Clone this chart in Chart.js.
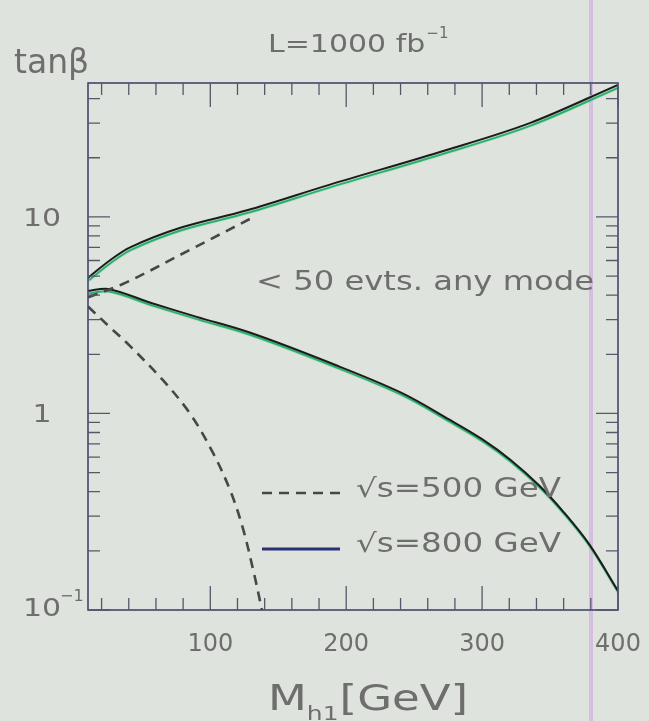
<!DOCTYPE html>
<html><head><meta charset="utf-8">
<script src="https://cdn.jsdelivr.net/npm/chart.js@4.4.1/dist/chart.umd.min.js"></script>
<style>
html,body{margin:0;padding:0;background:#dfe3dd;}
#wrap{position:relative;width:649px;height:721px;}
</style></head><body>
<div id="wrap"><canvas id="c" width="649" height="721"></canvas></div>
<script>
// ---- data ----
const massUpper800 = [10, 26, 41, 78, 127, 188, 269, 335, 400];
const tanbUpper800 = [4.9, 6.0, 7.0, 8.8, 10.8, 14.6, 21.4, 30, 47];
const massLower800 = [10, 25, 56, 90, 129, 188, 240, 276, 300, 321, 342, 360, 379, 400];
const tanbLower800 = [4.2, 4.3, 3.66, 3.1, 2.58, 1.81, 1.28, 0.93, 0.74, 0.58, 0.43, 0.315, 0.215, 0.125];
const massUpper500 = [10, 37, 85, 132];
const tanbUpper500 = [3.9, 4.6, 6.8, 10.0];
const massLower500 = [10, 26, 41, 65, 85, 102, 115, 124, 132, 138];
const tanbLower500 = [3.5, 2.75, 2.2, 1.48, 1.0, 0.63, 0.40, 0.26, 0.155, 0.1];

const xTickValues = [100, 200, 300, 400];
const xMinorTicks = [20, 40, 60, 80, 120, 140, 160, 180, 220, 240, 260, 280, 320, 340, 360, 380];
const yTickValues = [0.1, 1, 10];
const yTickBase = ['10', '1', '10'];
const yTickExp = ['\u22121', '', ''];
const yMinorTicks = [0.2, 0.3, 0.4, 0.5, 0.6, 0.7, 0.8, 0.9, 2, 3, 4, 5, 6, 7, 8, 9, 20, 30, 40];

const seriesLabels = ['\u221As=500 GeV', '\u221As=800 GeV'];
const titleText = 'L=1000 fb';
const titleExp = '\u22121';
const yTitle = 'tan\u03B2';
const regionText = '< 50 evts. any mode';
const xTitleMain = 'M';
const xTitleSub = 'h1';
const xTitleRest = '[GeV]';

function pts(xs, ys) { return xs.map((x, i) => ({x: x, y: ys[i]})); }

const FONT = '"DejaVu Sans", sans-serif';
const TXT = '#6e6e6e';
const AXIS = '#40456a';

function wideText(ctx, t, x, y, sx) {
  ctx.save();
  ctx.translate(x, y);
  ctx.scale(sx, 1);
  ctx.fillText(t, 0, 0);
  ctx.restore();
  return ctx.measureText(t).width * sx;
}

const decor = {
  id: 'decor',
  beforeDraw(chart) {
    const ctx = chart.ctx;
    ctx.save();
    ctx.fillStyle = '#dfe3dd';
    ctx.fillRect(0, 0, chart.width, chart.height);
    // scan artefact: faint violet vertical band
    ctx.fillStyle = 'rgba(205,160,225,0.55)';
    ctx.fillRect(589, 0, 4, chart.height);
    ctx.restore();
  },
  beforeDatasetDraw(chart, args) {
    const ds = chart.data.datasets[args.index];
    const ctx = chart.ctx;
    ctx.save();
    if (ds.greenShadow) {
      ctx.shadowColor = 'rgba(20,172,96,1)';
      ctx.shadowOffsetX = 1;
      ctx.shadowOffsetY = 2.5;
      ctx.shadowBlur = 1;
    }
  },
  afterDatasetDraw(chart) { chart.ctx.restore(); },
  afterDraw(chart) {
    const ctx = chart.ctx;
    const a = chart.chartArea;
    const xs = chart.scales.x, ys = chart.scales.y;
    ctx.save();
    // frame
    ctx.strokeStyle = AXIS;
    ctx.lineWidth = 1.6;
    ctx.strokeRect(a.left, a.top, a.right - a.left, a.bottom - a.top);
    // ticks
    ctx.lineWidth = 1.3;
    ctx.strokeStyle = '#55586a';
    ctx.beginPath();
    const xt = (v, len) => {
      const p = xs.getPixelForValue(v);
      ctx.moveTo(p, a.bottom); ctx.lineTo(p, a.bottom - len);
      ctx.moveTo(p, a.top); ctx.lineTo(p, a.top + len);
    };
    xTickValues.forEach(v => xt(v, 24));
    xMinorTicks.forEach(v => xt(v, 12));
    const yt = (v, len) => {
      const p = ys.getPixelForValue(v);
      ctx.moveTo(a.left, p); ctx.lineTo(a.left + len, p);
      ctx.moveTo(a.right, p); ctx.lineTo(a.right - len, p);
    };
    yTickValues.forEach(v => yt(v, 22));
    yMinorTicks.forEach(v => yt(v, 12));
    ctx.stroke();

    // y tick labels
    ctx.fillStyle = TXT;
    ctx.textBaseline = 'alphabetic';
    ctx.textAlign = 'left';
    yTickValues.forEach((v, i) => {
      const p = ys.getPixelForValue(v);
      ctx.font = '25px ' + FONT;
      const base = yTickBase[i];
      const w = ctx.measureText(base).width * 1.2;
      const cx = 42;
      const bl = i === 0 ? p + 6 : p + 9;
      wideText(ctx, base, cx - w / 2, bl, 1.2);
      if (yTickExp[i]) {
        ctx.font = '16px ' + FONT;
        ctx.fillText(yTickExp[i], cx + w / 2 - 1, bl - 15);
      }
    });

    // titles
    ctx.font = '33px ' + FONT;
    ctx.fillText(yTitle, 14, 73);

    ctx.font = '24px ' + FONT;
    const tw = wideText(ctx, titleText, 268, 52, 1.25);
    ctx.font = '15px ' + FONT;
    ctx.fillText(titleExp, 268 + tw + 1, 38);

    // region text
    ctx.font = '26px ' + FONT;
    const rw = ctx.measureText(regionText).width;
    wideText(ctx, regionText, 256, 290, 338 / rw);

    // legend
    const d0 = chart.data.datasets[0];
    ctx.save();
    ctx.strokeStyle = d0.borderColor;
    ctx.lineWidth = d0.borderWidth;
    ctx.setLineDash(d0.borderDash);
    ctx.beginPath(); ctx.moveTo(262, 493); ctx.lineTo(340, 493); ctx.stroke();
    ctx.setLineDash([]);
    ctx.strokeStyle = '#2b3272';
    ctx.lineWidth = 3;
    ctx.beginPath(); ctx.moveTo(262, 549); ctx.lineTo(340, 549); ctx.stroke();
    ctx.restore();
    ctx.font = '26px ' + FONT;
    [[seriesLabels[0], 497], [seriesLabels[1], 552]].forEach(([t, y]) => {
      const w = ctx.measureText(t).width;
      wideText(ctx, t, 356, y, 205 / w);
    });

    // x title
    ctx.font = '36px ' + FONT;
    const s = 1.25;
    let x = 268;
    x += wideText(ctx, xTitleMain, x, 710, s);
    ctx.font = '20px ' + FONT;
    x += wideText(ctx, xTitleSub, x, 720, s);
    ctx.font = '36px ' + FONT;
    wideText(ctx, xTitleRest, x + 1, 710, s);
    ctx.restore();
  }
};

const dashed = {borderColor: '#474747', borderWidth: 2.6, borderDash: [10, 7]};
const solid = {borderColor: '#1c1c1c', borderWidth: 2, borderDash: [], greenShadow: true};

new Chart(document.getElementById('c'), {
  type: 'line',
  data: {
    datasets: [
      Object.assign({label: seriesLabels[0], data: pts(massUpper500, tanbUpper500)}, dashed),
      Object.assign({label: seriesLabels[0], data: pts(massLower500, tanbLower500)}, dashed),
      Object.assign({label: seriesLabels[1], data: pts(massUpper800, tanbUpper800)}, solid),
      Object.assign({label: seriesLabels[1], data: pts(massLower800, tanbLower800)}, solid)
    ].map(d => Object.assign(d, {pointRadius: 0, fill: false, tension: 0.35}))
  },
  options: {
    responsive: false,
    animation: false,
    layout: {padding: {top: 83, right: 31, left: 0, bottom: 0}},
    plugins: {legend: {display: false}, tooltip: {enabled: false}, title: {display: false}},
    scales: {
      x: {
        type: 'linear', min: 10, max: 400,
        grid: {display: false, drawTicks: false},
        border: {display: false},
        afterBuildTicks: s => { s.ticks = xTickValues.map(v => ({value: v})); },
        afterFit: s => { s.height = 111; s.paddingLeft = 0; s.paddingRight = 0; },
        ticks: {padding: 20, color: TXT, font: {family: 'DejaVu Sans', size: 24}, maxRotation: 0, autoSkip: false}
      },
      y: {
        type: 'logarithmic', min: 0.1, max: 48,
        grid: {display: false, drawTicks: false},
        border: {display: false},
        ticks: {display: false},
        afterFit: s => { s.width = 88; s.paddingTop = 0; s.paddingBottom = 0; }
      }
    }
  },
  plugins: [decor]
});
</script>
</body></html>
